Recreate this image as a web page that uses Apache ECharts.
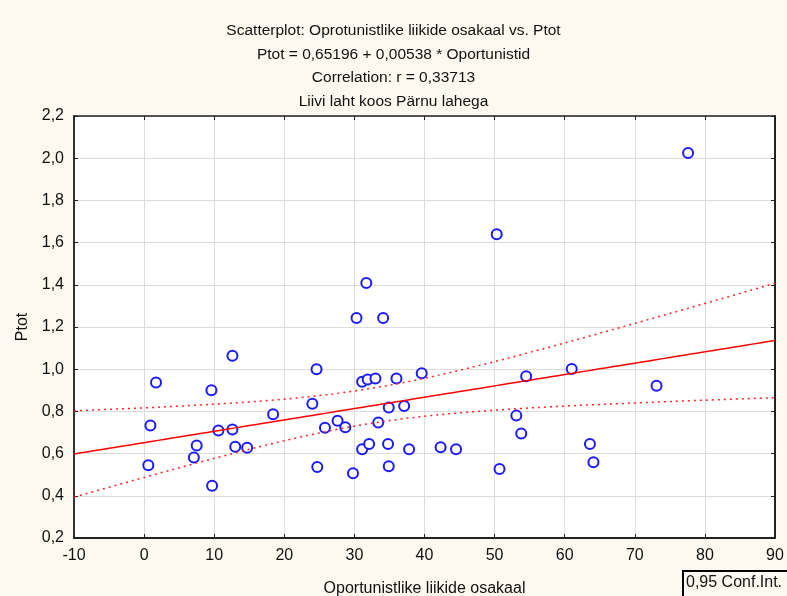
<!DOCTYPE html>
<html>
<head>
<meta charset="utf-8">
<script src="https://cdn.jsdelivr.net/npm/echarts@6/dist/echarts.min.js"></script>
<style>
  html, body { margin: 0; padding: 0; background: #fdf9f0; }
  #chart { width: 787px; height: 596px; }
</style>
</head>
<body>
<div id="chart"></div>
<script>
// Oportunistlike liikide osakaal (x) ja Ptot (y), loetud jooniselt
const oportunistid = [
  1.7, 0.9, 0.6, 9.6, 12.6, 10.6, 12.6, 7.5, 7.1, 13.0, 14.7, 9.7, 18.4,
  24.0, 31.7, 30.3, 34.1, 24.6, 31.1, 31.9, 33.0, 36.0, 39.6, 34.9, 37.1,
  27.6, 25.8, 28.7, 33.4, 31.1, 32.1, 34.8, 37.8, 42.3, 44.5, 24.7, 29.8, 34.9,
  77.6, 50.3, 54.5, 61.0, 73.1, 53.1, 53.8, 63.6, 64.1, 50.7
]
const ptot = [
  0.937, 0.733, 0.545, 0.900, 1.064, 0.709, 0.714, 0.638, 0.581, 0.633, 0.628, 0.448, 0.787,
  0.836, 1.409, 1.243, 1.243, 1.000, 0.940, 0.951, 0.956, 0.956, 0.981, 0.818, 0.826,
  0.756, 0.723, 0.725, 0.747, 0.621, 0.646, 0.646, 0.621, 0.630, 0.621, 0.537, 0.507, 0.540,
  2.025, 1.640, 0.967, 1.001, 0.922, 0.780, 0.695, 0.645, 0.559, 0.527
]
// regressioon (pealkirjast)
const intercept = 0.65196
const slope = 0.00538
const xTicks = [-10, 0, 10, 20, 30, 40, 50, 60, 70, 80, 90]
const yTicks = [0.2, 0.4, 0.6, 0.8, 1.0, 1.2, 1.4, 1.6, 1.8, 2.0, 2.2]

const points = oportunistid.map((x, i) => [x, ptot[i]])

// 95% usaldusvahemik regressioonijoonele
const n = points.length
const xMean = oportunistid.reduce((a, b) => a + b, 0) / n
const sxx = oportunistid.reduce((a, x) => a + (x - xMean) * (x - xMean), 0)
const sse = points.reduce((a, p) => {
  const r = p[1] - (intercept + slope * p[0])
  return a + r * r
}, 0)
const s = Math.sqrt(sse / (n - 2))
const tCrit = 2.013
const fitLine = []
const upper = []
const lower = []
for (let x = xTicks[0]; x <= xTicks[xTicks.length - 1]; x += 1) {
  const yHat = intercept + slope * x
  const h = tCrit * s * Math.sqrt(1 / n + (x - xMean) * (x - xMean) / sxx)
  fitLine.push([x, yHat])
  upper.push([x, yHat + h])
  lower.push([x, yHat - h])
}

const fmt = v => v.toFixed(1).replace('.', ',')
const font = 'Liberation Sans, Arial, sans-serif'

const chart = echarts.init(document.getElementById('chart'))
chart.setOption({
  backgroundColor: '#fdf9f0',
  animation: false,
  title: [
    {
      text: 'Scatterplot: Oprotunistlike liikide osakaal vs. Ptot\nPtot = 0,65196 + 0,00538 * Oportunistid\nCorrelation: r = 0,33713\nLiivi laht koos Pärnu lahega',
      left: 'center',
      top: 14,
      textStyle: { fontFamily: font, fontSize: 15.5, fontWeight: 'normal', color: '#111', lineHeight: 23.5, align: 'center' }
    },
    {
      text: '0,95 Conf.Int.',
      left: 683,
      top: 571,
      padding: [4, 12, 8, 3],
      borderColor: '#000',
      borderWidth: 2,
      textStyle: { fontFamily: font, fontSize: 16, fontWeight: 'normal', color: '#111' }
    }
  ],
  grid: {
    left: 74, right: 12, top: 116, bottom: 58,
    outerBoundsMode: 'none',
    show: true, backgroundColor: '#fff', borderWidth: 0
  },
  xAxis: [
    {
      type: 'value', min: -10, max: 90, interval: 10,
      name: 'Oportunistlike liikide osakaal', nameLocation: 'middle', nameGap: 43,
      nameTextStyle: { fontFamily: font, fontSize: 16, color: '#111' },
      axisLine: { onZero: false, lineStyle: { color: '#222', width: 2 } },
      axisTick: { inside: true, length: 4, lineStyle: { color: '#222' } },
      axisLabel: { fontFamily: font, fontSize: 16, color: '#111', margin: 10, formatter: v => String(v) },
      splitLine: { lineStyle: { color: '#dcdcdc', width: 1 } }
    },
    {
      type: 'value', min: -10, max: 90, interval: 10, position: 'top',
      axisLine: { onZero: false, lineStyle: { color: '#222', width: 1.5 } },
      axisTick: { inside: true, length: 4, lineStyle: { color: '#222' } },
      axisLabel: { show: false },
      splitLine: { show: false }
    }
  ],
  yAxis: [
    {
      type: 'value', min: 0.2, max: 2.2, interval: 0.2,
      name: 'Ptot', nameLocation: 'middle', nameGap: 38, nameRotate: 90,
      nameTextStyle: { fontFamily: font, fontSize: 16, color: '#111' },
      axisLine: { show: true, onZero: false, lineStyle: { color: '#333', width: 2 } },
      axisTick: { show: true, inside: true, length: 4, lineStyle: { color: '#222' } },
      axisLabel: { fontFamily: font, fontSize: 16, color: '#111', margin: 10, formatter: fmt },
      splitLine: { lineStyle: { color: '#dcdcdc', width: 1 } }
    },
    {
      type: 'value', min: 0.2, max: 2.2, interval: 0.2, position: 'right',
      axisLine: { show: true, onZero: false, lineStyle: { color: '#222', width: 2 } },
      axisTick: { show: true, inside: true, length: 4, lineStyle: { color: '#222' } },
      axisLabel: { show: false },
      splitLine: { show: false }
    }
  ],
  series: [
    {
      type: 'line', data: upper, showSymbol: false, silent: true,
      lineStyle: { color: '#ff2020', width: 1.5, type: [2, 4] }
    },
    {
      type: 'line', data: lower, showSymbol: false, silent: true,
      lineStyle: { color: '#ff2020', width: 1.5, type: [2, 4] }
    },
    {
      type: 'line', data: fitLine, showSymbol: false, silent: true,
      lineStyle: { color: '#ff0000', width: 1.5 }
    },
    {
      type: 'scatter', data: points, symbol: 'emptyCircle', symbolSize: 10,
      itemStyle: { color: '#1a1aff', borderColor: '#1a1aff', borderWidth: 1.5, opacity: 1 }
    }
  ]
})
</script>
</body>
</html>
